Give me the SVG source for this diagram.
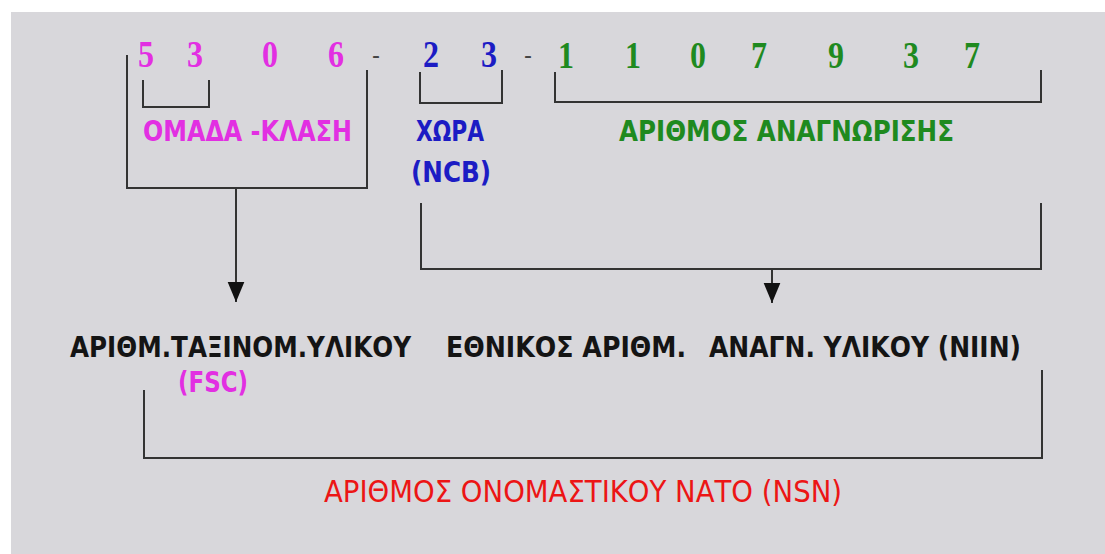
<svg xmlns="http://www.w3.org/2000/svg" width="1105" height="554" viewBox="0 0 1105 554">
  <defs>
    <style>
      .dig { font-family: "Liberation Serif", "DejaVu Serif", serif; font-weight: bold; font-size: 38px; text-anchor: middle; }
      .dash { font-family: "Liberation Sans", sans-serif; font-weight: normal; font-size: 24px; fill: #444; text-anchor: middle; }
      .lbl { font-family: "DejaVu Sans", "Liberation Sans", sans-serif; font-weight: bold; font-size: 29px; }
      .lbln { font-family: "DejaVu Sans", "Liberation Sans", sans-serif; font-weight: normal; font-size: 31px; }
      .pink { fill: #e22fe2; }
      .blue { fill: #1c1cc4; }
      .green { fill: #1f8a1f; }
      .red { fill: #ec1515; }
      .black { fill: #141414; }
      .ln { fill: none; stroke: #333; stroke-width: 2; }
    </style>
    <marker id="ah" markerUnits="userSpaceOnUse" markerWidth="20" markerHeight="24" viewBox="0 0 24 20" refX="24" refY="10" orient="auto">
      <path d="M0,0 L24,10 L0,20 z" fill="#111"/>
    </marker>
  </defs>

  <rect x="11" y="12" width="1094" height="542" fill="#d8d7db"/>

  <g id="fsc-digits">
    <text class="dig pink" x="146" y="67" textLength="16" lengthAdjust="spacingAndGlyphs">5</text>
    <text class="dig pink" x="195" y="67" textLength="16" lengthAdjust="spacingAndGlyphs">3</text>
    <text class="dig pink" x="270" y="67" textLength="16" lengthAdjust="spacingAndGlyphs">0</text>
    <text class="dig pink" x="336" y="67" textLength="16" lengthAdjust="spacingAndGlyphs">6</text>
  </g>
  <g id="dash1"><text class="dash" x="376" y="63">-</text></g>
  <g id="ncb-digits">
    <text class="dig blue" x="431" y="67" textLength="16" lengthAdjust="spacingAndGlyphs">2</text>
    <text class="dig blue" x="489" y="67" textLength="16" lengthAdjust="spacingAndGlyphs">3</text>
  </g>
  <g id="dash2"><text class="dash" x="528" y="63">-</text></g>
  <g id="id-digits">
    <text class="dig green" x="566" y="68" textLength="16" lengthAdjust="spacingAndGlyphs">1</text>
    <text class="dig green" x="633" y="68" textLength="16" lengthAdjust="spacingAndGlyphs">1</text>
    <text class="dig green" x="698" y="68" textLength="16" lengthAdjust="spacingAndGlyphs">0</text>
    <text class="dig green" x="759" y="68" textLength="16" lengthAdjust="spacingAndGlyphs">7</text>
    <text class="dig green" x="836" y="68" textLength="16" lengthAdjust="spacingAndGlyphs">9</text>
    <text class="dig green" x="911" y="68" textLength="16" lengthAdjust="spacingAndGlyphs">3</text>
    <text class="dig green" x="972" y="68" textLength="16" lengthAdjust="spacingAndGlyphs">7</text>
  </g>

  <g id="label-group-class">
    <text class="lbl pink" x="143" y="141" textLength="209" lengthAdjust="spacingAndGlyphs">ΟΜΑΔΑ -ΚΛΑΣΗ</text>
  </g>
  <g id="label-country">
    <text class="lbl blue" x="416" y="141" textLength="68" lengthAdjust="spacingAndGlyphs">ΧΩΡΑ</text>
    <text class="lbl blue" x="411" y="182" textLength="80" lengthAdjust="spacingAndGlyphs">(NCB)</text>
  </g>
  <g id="label-id">
    <text class="lbl green" x="619" y="141" textLength="335" lengthAdjust="spacingAndGlyphs">ΑΡΙΘΜΟΣ ΑΝΑΓΝΩΡΙΣΗΣ</text>
  </g>
  <g id="node-fsc">
    <text class="lbl black" x="70" y="357" textLength="341" lengthAdjust="spacingAndGlyphs">ΑΡΙΘΜ.ΤΑΞΙΝΟΜ.ΥΛΙΚΟΥ</text>
    <text class="lbl pink" x="178" y="392" textLength="70" lengthAdjust="spacingAndGlyphs">(FSC)</text>
  </g>
  <g id="node-niin">
    <text class="lbl black" x="446" y="357" textLength="240" lengthAdjust="spacingAndGlyphs">ΕΘΝΙΚΟΣ ΑΡΙΘΜ.</text>
    <text class="lbl black" x="709" y="357" textLength="312" lengthAdjust="spacingAndGlyphs">ΑΝΑΓΝ. ΥΛΙΚΟΥ (NIIN)</text>
  </g>
  <g id="node-nsn">
    <text class="lbln red" x="324" y="502" textLength="518" lengthAdjust="spacingAndGlyphs">ΑΡΙΘΜΟΣ ΟΝΟΜΑΣΤΙΚΟΥ ΝΑΤΟ (NSN)</text>
  </g>

  <g id="connectors">
    <path class="ln" d="M143,80 V107 H209 V80"/>
    <path class="ln" d="M420,72 V103 H502 V70"/>
    <path class="ln" d="M555,72 V102 H1041 V70"/>
    <path class="ln" d="M127,55 V188 H367 V70"/>
    <path class="ln" d="M236,188 V302" marker-end="url(#ah)"/>
    <path class="ln" d="M421,203 V269 H1041 V203"/>
    <path class="ln" d="M772,269 V303" marker-end="url(#ah)"/>
    <path class="ln" d="M144,390 V458 H1042 V370"/>
  </g>
</svg>
